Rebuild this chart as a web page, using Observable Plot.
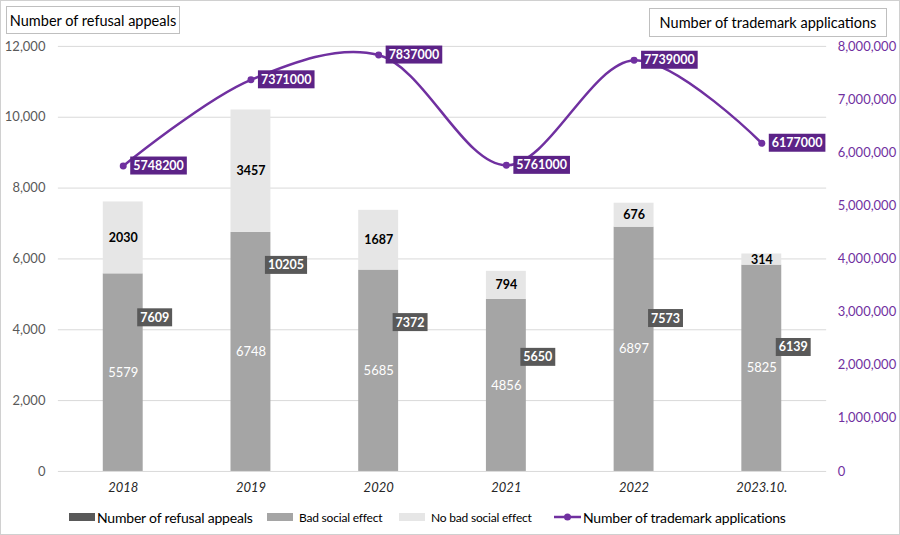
<!DOCTYPE html>
<html>
<head>
<meta charset="utf-8">
<script src="https://cdn.jsdelivr.net/npm/d3@7"></script>
<script src="https://cdn.jsdelivr.net/npm/@observablehq/plot@0.6"></script>
<style>
  body { margin: 0; background: #fff; font-family: Lato, "Open Sans", sans-serif; }
  #wrap { position: relative; width: 900px; height: 535px; box-sizing: border-box; border: 1px solid #d0d0d0; overflow: hidden; }
  #chart { position: absolute; left: 0; top: 0; }
  .tbox { position: absolute; border: 1px solid #bfbfbf; background: #fff; font-size: 14.5px; color: #000; display: flex; align-items: center; justify-content: center; box-sizing: border-box; white-space: nowrap; }
  .leg { position: absolute; top: 506px; font-size: 14px; color: #000; display: flex; align-items: center; height: 20px; white-space: nowrap; letter-spacing: -0.2px; }
  .sw { display: inline-block; width: 26px; height: 8px; margin-right: 2px; }
  g[aria-label="x-axis tick label"] text { font-style: italic; }
</style>
</head>
<body>
<div id="wrap">
  <div id="chart"></div>
  <div class="tbox" style="left:5px;top:5px;width:174px;height:28px;">Number of refusal appeals</div>
  <div class="tbox" style="left:648px;top:7px;width:238px;height:29px;">Number of trademark applications</div>
  <div class="leg" style="left:68px;"><span class="sw" style="background:#595959"></span>Number of refusal appeals</div>
  <div class="leg" style="left:266px;font-size:12px;"><span class="sw" style="background:#a5a5a5;margin-right:6px"></span>Bad social effect</div>
  <div class="leg" style="left:398px;font-size:12px;"><span class="sw" style="background:#e6e6e6;margin-right:6px"></span>No bad social effect</div>
  <div class="leg" style="left:553px;"><svg width="27" height="12" style="margin-right:2px"><line x1="0" y1="6" x2="27" y2="6" stroke="#7030a0" stroke-width="2.5"/><circle cx="13.5" cy="6" r="3.5" fill="#7030a0"/></svg>Number of trademark applications</div>
</div>
<script>
const years = ["2018", "2019", "2020", "2021", "2022", "2023.10."];
const badSocial = [5579, 6748, 5685, 4856, 6897, 5825];
const noBadSocial = [2030, 3457, 1687, 794, 676, 314];
const totals = [7609, 10205, 7372, 5650, 7573, 6139];
const trademarks = [5748200, 7371000, 7837000, 5761000, 7739000, 6177000];
const leftTicks = [0, 2000, 4000, 6000, 8000, 10000, 12000];
const rightTicks = [0, 1000000, 2000000, 3000000, 4000000, 5000000, 6000000, 7000000, 8000000];

const k = 12000 / 8000000; // right axis -> left axis units
const purple = "#7030a0";

const stackRows = [];
years.forEach((y, i) => {
  stackRows.push({year: y, series: "Bad social effect", value: badSocial[i]});
  stackRows.push({year: y, series: "No bad social effect", value: noBadSocial[i]});
});
const rows = years.map((y, i) => ({year: y, bad: badSocial[i], nobad: noBadSocial[i], total: totals[i], tm: trademarks[i]}));

const fmt = d3.format(",");

const plot = Plot.plot({
  width: 900,
  height: 500,
  marginLeft: 57,
  marginRight: 73,
  marginTop: 45,
  marginBottom: 29,
  style: {fontFamily: "Lato, 'Open Sans', sans-serif", fontSize: "13px", background: "transparent"},
  x: {domain: years, paddingInner: 0.69, paddingOuter: 0.345, label: null},
  y: {domain: [0, 12000], label: null},
  color: {domain: ["Bad social effect", "No bad social effect"], range: ["#a5a5a5", "#e6e6e6"]},
  marks: [
    Plot.gridY(leftTicks, {stroke: "#d9d9d9", strokeOpacity: 1, strokeWidth: 1}),
    Plot.barY(stackRows, {x: "year", y: "value", fill: "series"}),
    Plot.text(rows, {x: "year", y: d => d.bad / 2, text: d => String(d.bad), fill: "#ffffff", fontSize: 13}),
    Plot.text(rows, {x: "year", y: d => d.bad + d.nobad / 2, text: d => String(d.nobad), fill: "#000000", fontWeight: "bold", fontSize: 12.5}),
    Plot.text(rows, {x: "year", y: d => d.total * 0.57, text: d => String(d.total), fill: "#ffffff", fontWeight: "bold", fontSize: 12.5, textAnchor: "start", dx: 17, className: "box-dark"}),
    Plot.line(rows, {x: "year", y: d => d.tm * k, curve: "catmull-rom", stroke: purple, strokeWidth: 2.5}),
    Plot.dot(rows, {x: "year", y: d => d.tm * k, r: 3.5, fill: purple}),
    Plot.text(rows, {x: "year", y: d => d.tm * k, text: d => String(d.tm), fill: "#ffffff", fontWeight: "bold", fontSize: 12.5, textAnchor: "start", dx: 10, className: "box-purple"}),
    Plot.axisY(leftTicks, {anchor: "left", tickSize: 0, tickPadding: 13, tickFormat: fmt, fill: "#595959", label: null}),
    Plot.axisY(rightTicks.map(v => v * k), {anchor: "right", tickSize: 0, tickPadding: 11, textAnchor: "start", tickFormat: d => fmt(Math.round(d / k)), fill: purple, label: null}),
    Plot.axisX({tickSize: 0, tickPadding: 11, fill: "#262626", label: null})
  ]
});
document.getElementById("chart").appendChild(plot);

function boxify(cls, color) {
  d3.select(plot).selectAll(`g.${cls} text`).each(function () {
    const b = this.getBBox();
    const r = document.createElementNS("http://www.w3.org/2000/svg", "rect");
    r.setAttribute("x", b.x - 3);
    r.setAttribute("y", b.y - 1.5);
    r.setAttribute("width", b.width + 6);
    r.setAttribute("height", b.height + 3);
    r.setAttribute("fill", color);
    const t = this.getAttribute("transform");
    if (t) r.setAttribute("transform", t);
    this.parentNode.insertBefore(r, this);
  });
}
boxify("box-dark", "#595959");
boxify("box-purple", "#5c2387");
</script>
</body>
</html>
